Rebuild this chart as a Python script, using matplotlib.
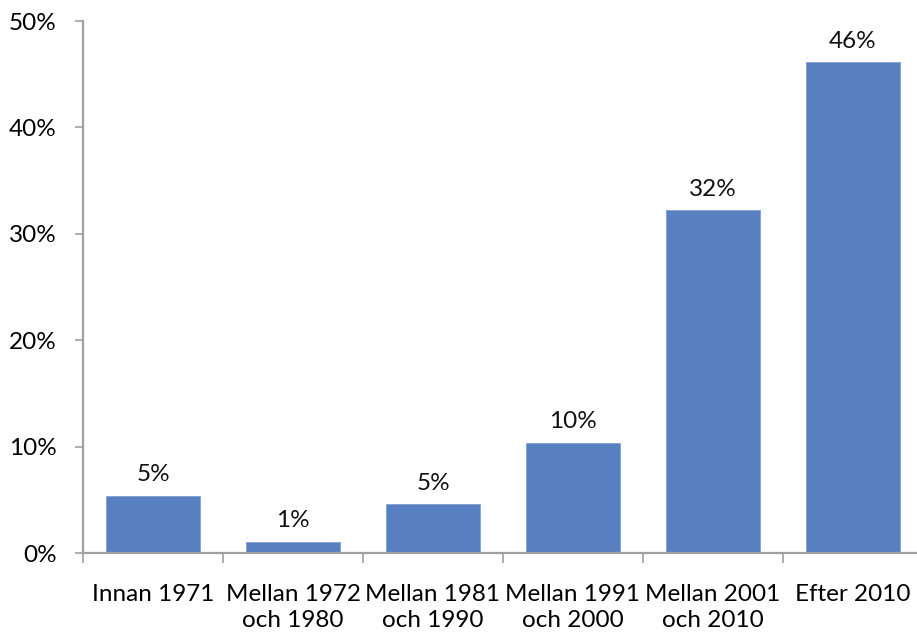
import matplotlib

matplotlib.use("Agg")
import matplotlib.pyplot as plt
import matplotlib.ticker as mticker

categories = ["Innan 1971", "Mellan 1972\noch 1980", "Mellan 1981\noch 1990",
              "Mellan 1991\noch 2000", "Mellan 2001\noch 2010", "Efter 2010"]
values = [5.4, 1.05, 4.6, 10.35, 32.2, 46.1]
value_labels = ["5%", "1%", "5%", "10%", "32%", "46%"]
y_ticks = [0, 10, 20, 30, 40, 50]

BAR = "#5880c0"
AXIS = "#a0a0a0"

plt.rcParams["font.family"] = ["Lato", "DejaVu Sans"]

fig = plt.figure(figsize=(9.17, 6.34), dpi=100, facecolor="white")
ax = fig.add_axes([83 / 917, 1 - 553 / 634, 840 / 917, 532 / 634])

x = list(range(len(categories)))
ax.bar(x, values, width=0.665, color=BAR, edgecolor="#7f9fd4", linewidth=0.6)

for xi, v, lab in zip(x, values, value_labels):
    ax.annotate(lab, xy=(xi, v), xytext=(0, 21), textcoords="offset pixels",
                ha="center", va="center", fontsize=17.5, color="#111111")

ax.set_xlim(-0.5, len(categories) - 0.5)
ax.set_ylim(0, 50)
ax.set_yticks(y_ticks)
ax.yaxis.set_major_formatter(mticker.FuncFormatter(lambda v, _: f"{v:.0f}%"))

# category boundary ticks with centered labels
ax.set_xticks([i - 0.5 for i in range(len(categories) + 1)])
ax.set_xticklabels([])
ax.set_xticks(x, minor=True)
ax.set_xticklabels(categories, minor=True, linespacing=1.3)
ax.tick_params(axis="x", which="minor", length=0, pad=22, labelsize=17.5)
ax.tick_params(axis="x", which="major", length=7, width=1.2, color=AXIS)
ax.tick_params(axis="y", length=6, width=1.2, color=AXIS, pad=13, labelsize=17.5)

for side in ["top", "right"]:
    ax.spines[side].set_visible(False)
for side in ["left", "bottom"]:
    ax.spines[side].set_color(AXIS)
    ax.spines[side].set_linewidth(1.6)

fig.savefig("out.png", dpi=100, facecolor="white")
